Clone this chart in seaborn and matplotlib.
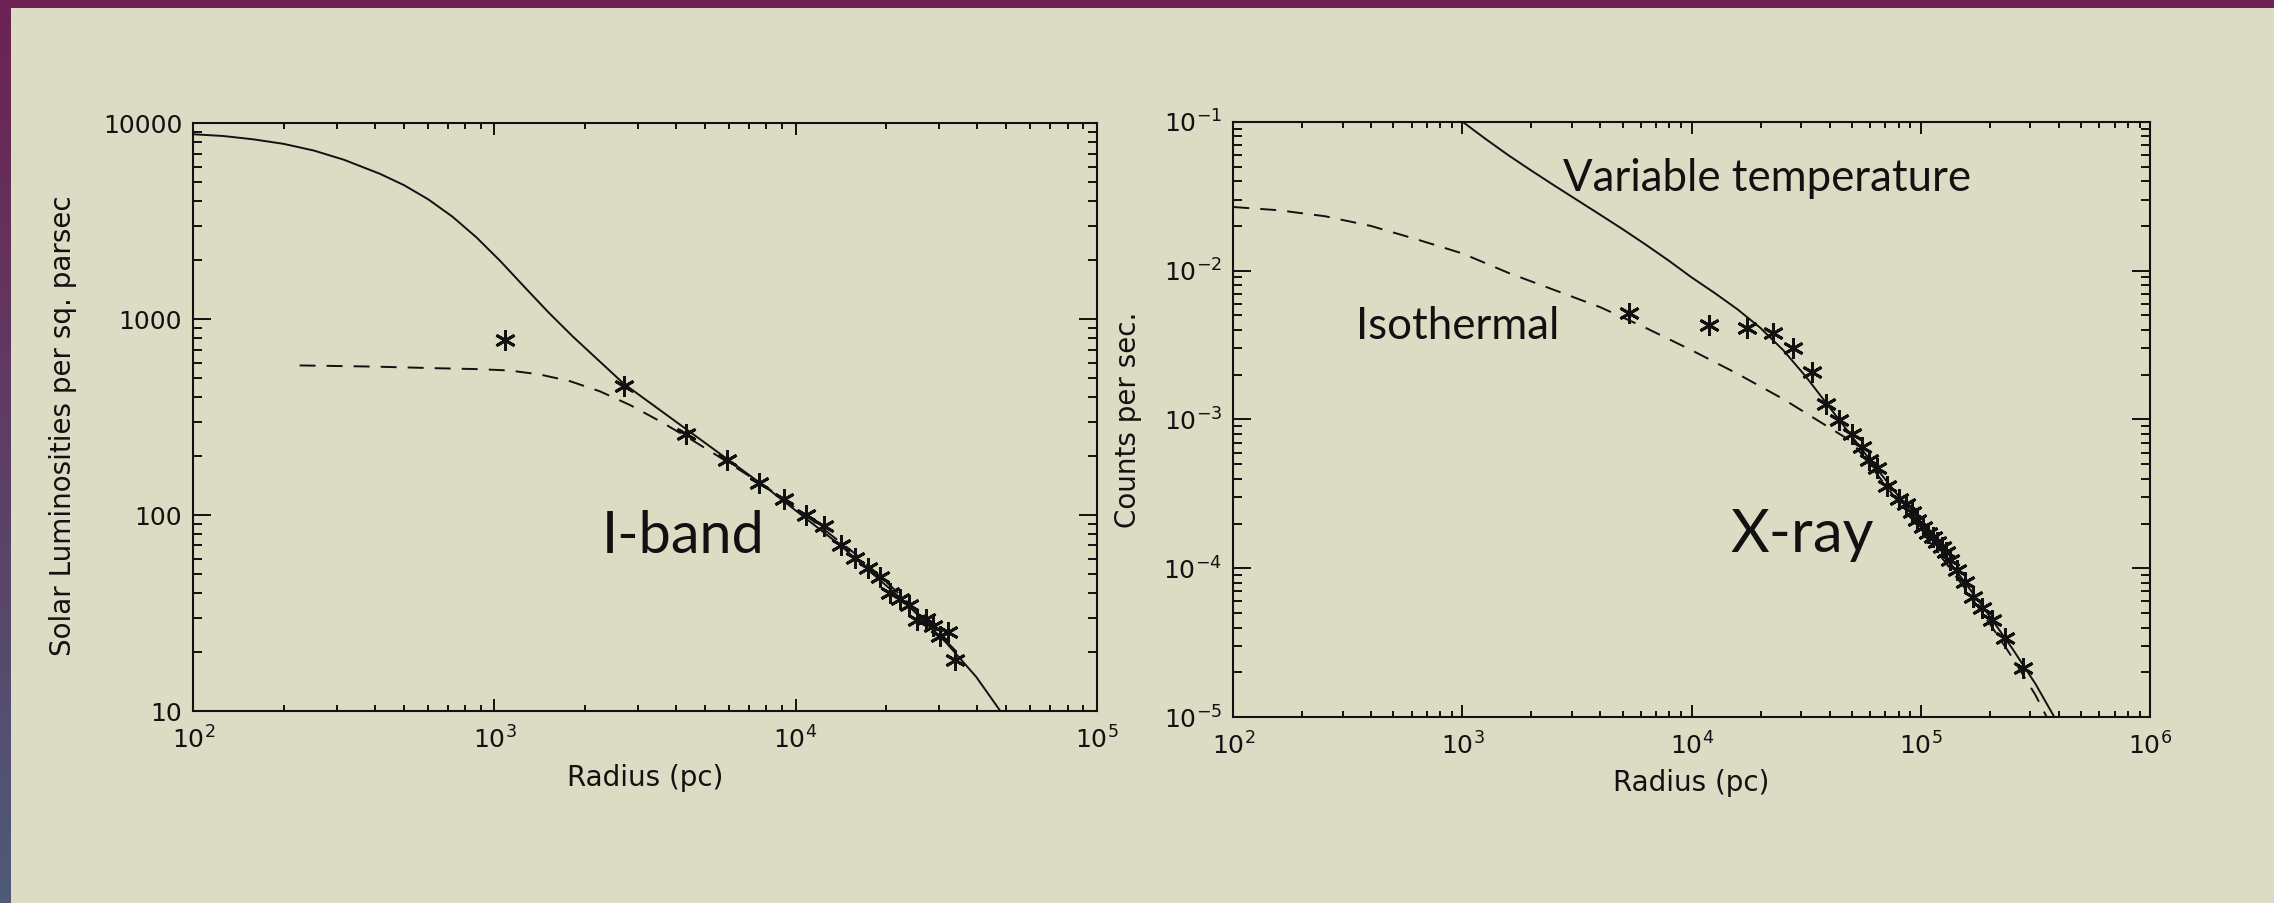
import numpy as np
import matplotlib
matplotlib.use("Agg")
import matplotlib.pyplot as plt
import seaborn as sns
from matplotlib.patches import Rectangle
from matplotlib.ticker import FixedLocator, FuncFormatter, LogLocator, NullFormatter

# ---------------- I-band surface brightness profile ----------------
# measured radii (pc) and surface brightness (L_sun / pc^2)
iband_r = [1087, 2692, 4325, 5936, 7564, 9159, 10810, 12432, 14125, 15760,
           17450, 19085, 20600, 22230, 23880, 25260, 27130, 28690, 30200,
           32170, 33870]
iband_sb = [787, 457, 260, 190, 146.6, 120.6, 100.3, 87.5, 70.6, 60.3,
            53.7, 48.3, 40.0, 37.3, 34.9, 29.2, 29.5, 27.0, 24.2, 25.2, 18.3]

# model curves, tabulated as log10(radius) / log10(surface brightness)
iband_fit_logr = [2.0, 2.1, 2.2, 2.3, 2.4, 2.5, 2.62, 2.70, 2.78, 2.86, 2.94,
                  3.02, 3.10, 3.18, 3.26, 3.34, 3.43, 3.65, 3.90, 4.15, 4.35,
                  4.50, 4.60, 4.68]
iband_fit_logsb = [3.944, 3.935, 3.918, 3.895, 3.861, 3.814, 3.742, 3.684,
                   3.612, 3.524, 3.418, 3.296, 3.164, 3.034, 2.912, 2.798,
                   2.670, 2.424, 2.144, 1.844, 1.574, 1.349, 1.174, 1.000]

iband_core_logr = [2.353, 2.6, 2.8, 2.95, 3.05, 3.15, 3.25, 3.35, 3.45, 3.55,
                   3.65, 3.75, 3.90, 4.05, 4.20, 4.35, 4.53]
iband_core_logsb = [2.764, 2.758, 2.750, 2.745, 2.738, 2.718, 2.684, 2.632,
                    2.562, 2.479, 2.389, 2.294, 2.146, 1.980, 1.800, 1.590,
                    1.310]

# ---------------- X-ray surface brightness profile ----------------
# measured radii (pc) and count rates (counts / s)
xray_r = [5343, 11937, 17380, 22700, 27760, 33390, 38550, 44060, 49890,
          55200, 59570, 64570, 71380, 80540, 86130, 91200, 95880, 101800,
          107700, 113300, 117900, 123200, 128700, 133900, 143300, 155700,
          169300, 184200, 203600, 232800, 278100]
xray_cts = [5.22e-3, 4.31e-3, 4.10e-3, 3.83e-3, 3.00e-3, 2.09e-3, 1.27e-3,
            9.92e-4, 8.0e-4, 6.57e-4, 5.34e-4, 4.7e-4, 3.58e-4, 2.91e-4,
            2.71e-4, 2.40e-4, 2.11e-4, 1.89e-4, 1.72e-4, 1.62e-4, 1.51e-4,
            1.40e-4, 1.29e-4, 1.14e-4, 9.75e-5, 8.14e-5, 6.46e-5, 5.4e-5,
            4.5e-5, 3.39e-5, 2.13e-5]

# variable-temperature model (solid), log10 values
xray_vt_logr = [3.00, 3.10, 3.20, 3.30, 3.40, 3.50, 3.60, 3.70, 3.80, 3.90,
                4.00, 4.10, 4.20, 4.30, 4.40, 4.50, 4.60, 4.70, 4.80, 4.90,
                5.00, 5.10, 5.20, 5.30, 5.40, 5.50, 5.585]
xray_vt_logc = [-1.000, -1.115, -1.225, -1.328, -1.428, -1.526, -1.624,
                -1.723, -1.826, -1.933, -2.046, -2.150, -2.260, -2.385,
                -2.535, -2.715, -2.915, -3.115, -3.315, -3.510, -3.705,
                -3.905, -4.110, -4.320, -4.540, -4.775, -5.005]

# isothermal model (dashed), log10 values
xray_iso_logr = [2.0, 2.2, 2.4, 2.6, 2.8, 3.0, 3.2, 3.4, 3.6, 3.8, 4.0, 4.2,
                 4.4, 4.618, 4.70, 4.80, 4.90, 5.00, 5.10, 5.20, 5.30, 5.40,
                 5.50, 5.55]
xray_iso_logc = [-1.573, -1.595, -1.635, -1.700, -1.790, -1.885, -2.015,
                 -2.130, -2.245, -2.385, -2.535, -2.693, -2.863, -3.071,
                 -3.150, -3.350, -3.550, -3.745, -3.945, -4.150, -4.370,
                 -4.600, -4.850, -5.000]

iband_yticks = [10, 100, 1000, 10000]
iband_xticks = [1e2, 1e3, 1e4, 1e5]
xray_yticks = [1e-5, 1e-4, 1e-3, 1e-2, 1e-1]
xray_xticks = [1e2, 1e3, 1e4, 1e5, 1e6]

BG = "#dcdbc3"
INK = "#111111"

sns.set_theme(style="ticks")
plt.rcParams["font.family"] = ["DejaVu Sans"]
plt.rcParams["mathtext.default"] = "regular"
plt.rcParams["axes.linewidth"] = 1.5

W, H = 2274, 903
fig = plt.figure(figsize=(W / 100, H / 100 + 1e-4), dpi=100)
fig.patch.set_facecolor(BG)

# slide frame: maroon band at the top, gradient band on the left
fig.add_artist(Rectangle((0, 1 - 8 / H), 1, 8 / H, transform=fig.transFigure,
                         facecolor="#6d2353", edgecolor="none", zorder=5))
edge = fig.add_axes([0, 0, 10 / W, 1 - 8 / H])
top_c = np.array([0x6d, 0x23, 0x53]) / 255
bot_c = np.array([0x4e, 0x5a, 0x78]) / 255
t = np.linspace(0, 1, 256)[:, None]
grad = (top_c[None, :] * (1 - t) + bot_c[None, :] * t)[:, None, :]
edge.imshow(grad, aspect="auto", extent=[0, 1, 0, 1])
edge.set_axis_off()

ax1 = fig.add_axes([193.3 / W, (H - 711) / H, 903.4 / W, 587.7 / H])
ax2 = fig.add_axes([1233.3 / W, (H - 717.3) / H, 916.7 / W, 595.6 / H])

LW = 1.4
DASH = (0, (8.2, 5.7))
STAR = (6, 2, 0)
ANNOT = ["Lato", "DejaVu Sans"]
LABEL_FS = 20


def style_axes(ax, xticks, yticks, yfmt, ylen_major, xlen_major):
    ax.set_facecolor("none")
    ax.set_xscale("log")
    ax.set_yscale("log")
    for sp in ax.spines.values():
        sp.set_visible(True)
        sp.set_color(INK)
        sp.set_linewidth(1.5)
    ax.xaxis.set_major_locator(FixedLocator(xticks))
    ax.yaxis.set_major_locator(FixedLocator(yticks))
    ax.xaxis.set_minor_locator(LogLocator(base=10, subs=np.arange(2, 10)))
    ax.yaxis.set_minor_locator(LogLocator(base=10, subs=np.arange(2, 10)))
    ax.xaxis.set_minor_formatter(NullFormatter())
    ax.yaxis.set_minor_formatter(NullFormatter())
    ax.xaxis.set_major_formatter(
        FuncFormatter(lambda v, p: r"$10^{%d}$" % round(np.log10(v))))
    ax.yaxis.set_major_formatter(FuncFormatter(yfmt))
    ax.tick_params(which="both", direction="in", top=True, right=True,
                   color=INK, width=1.4, labelcolor=INK, labelsize=18)
    ax.tick_params(axis="y", which="major", length=ylen_major, pad=8)
    ax.tick_params(axis="y", which="minor", length=ylen_major / 2)
    ax.tick_params(axis="x", which="major", length=xlen_major, pad=11)
    ax.tick_params(axis="x", which="minor", length=xlen_major / 2)
    ax.grid(False)


def draw_profile(ax, fit_logr, fit_logy, alt_logr, alt_logy, pts_r, pts):
    sns.lineplot(x=10 ** np.asarray(fit_logr), y=10 ** np.asarray(fit_logy),
                 ax=ax, color=INK, lw=LW, sort=False, estimator=None)
    sns.lineplot(x=10 ** np.asarray(alt_logr), y=10 ** np.asarray(alt_logy),
                 ax=ax, color=INK, lw=LW, linestyle=DASH, sort=False,
                 estimator=None)
    sns.lineplot(x=pts_r, y=pts, ax=ax, color=INK, linestyle="",
                 marker=STAR, markersize=15, markeredgewidth=2.1,
                 markeredgecolor=INK, sort=False, estimator=None)


# ---------------- left panel: I-band ----------------
draw_profile(ax1, iband_fit_logr, iband_fit_logsb, iband_core_logr,
             iband_core_logsb, iband_r, iband_sb)
style_axes(ax1, iband_xticks, iband_yticks,
           lambda v, p: "%d" % round(v), 13.0, 8.6)
ax1.set_xlim(1e2, 1e5)
ax1.set_ylim(10, 10000)
ax1.set_xlabel("Radius (pc)", fontsize=LABEL_FS, color=INK)
ax1.set_ylabel("Solar Luminosities per sq. parsec", fontsize=LABEL_FS,
               color=INK)
ax1.xaxis.set_label_coords(0.5, -0.090)
ax1.yaxis.set_label_coords(-0.1287, 0.485)
ax1.text(2270, 64.4, "I-band", family=ANNOT, fontsize=41.5,
         color=INK, ha="left", va="baseline")

# ---------------- right panel: X-ray ----------------
draw_profile(ax2, xray_vt_logr, xray_vt_logc, xray_iso_logr, xray_iso_logc,
             xray_r, xray_cts)
style_axes(ax2, xray_xticks, xray_yticks,
           lambda v, p: r"$10^{%d}$" % round(np.log10(v)), 13.2, 8.6)
ax2.set_xlim(1e2, 1e6)
ax2.set_ylim(1e-5, 1e-1)
ax2.set_xlabel("Radius (pc)", fontsize=LABEL_FS, color=INK)
ax2.set_ylabel("Counts per sec.", fontsize=LABEL_FS, color=INK)
ax2.xaxis.set_label_coords(0.5, -0.087)
ax2.yaxis.set_label_coords(-0.0996, 0.5)
ax2.text(14690, 1.294e-4, "X-ray", family=ANNOT,
         fontsize=43, color=INK, ha="left", va="baseline")
ax2.text(2745, 0.034, "Variable temperature", family=ANNOT,
         fontsize=31.5, color=INK, ha="left", va="baseline")
ax2.text(343, 3.48e-3, "Isothermal", family=ANNOT,
         fontsize=31.5, color=INK, ha="left", va="baseline")

fig.savefig("out.png", dpi=100, facecolor=BG)
